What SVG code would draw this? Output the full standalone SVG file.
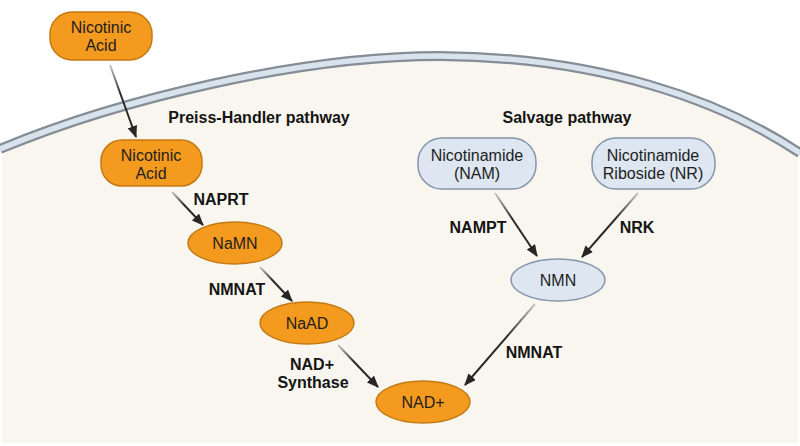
<svg xmlns="http://www.w3.org/2000/svg" width="800" height="446" viewBox="0 0 800 446">
<defs>
<style>
text{font-family:"Liberation Sans",Arial,sans-serif;fill:#1e1e1e}
.n{font-size:16px;text-anchor:middle}
.b{font-size:16px;font-weight:bold;text-anchor:middle;fill:#141414}
.or{fill:#F39A1F;stroke:#C47A14;stroke-width:1.5}
.bl{fill:#DDE6F1;stroke:#8595AA;stroke-width:1.5}
.ar{stroke-width:2;fill:none;marker-end:url(#ah)}
.dr{stroke:url(#gdr)}
.dl{stroke:url(#gdl)}
</style>
<marker id="ah" viewBox="0 0 12 10" refX="11" refY="5" markerWidth="12" markerHeight="10" markerUnits="userSpaceOnUse" orient="auto">
<path d="M0,0 L12,5 L0,10 Z" fill="#262626"/>
</marker>
<linearGradient id="gdr" x1="0" y1="0" x2="1" y2="1">
<stop offset="0" stop-color="#c9c9c9"/>
<stop offset="0.4" stop-color="#2a2a2a"/>
<stop offset="1" stop-color="#262626"/>
</linearGradient>
<linearGradient id="gdl" x1="1" y1="0" x2="0" y2="1">
<stop offset="0" stop-color="#c9c9c9"/>
<stop offset="0.4" stop-color="#2a2a2a"/>
<stop offset="1" stop-color="#262626"/>
</linearGradient>
</defs>
<rect width="800" height="446" fill="#ffffff"/>
<g id="cell">
<path d="M2,150 C120,99 300,56 440,56 C600,57 720,100 798,152 L798,443 L2,443 Z" fill="#F8F6EE"/>
<path d="M0,149 C120,99 300,56 440,56 C600,57 720,100 800,153" fill="none" stroke="#858D96" stroke-width="10"/>
<path d="M0,149 C120,99 300,56 440,56 C600,57 720,100 800,153" fill="none" stroke="#D9E3ED" stroke-width="5.5"/>
</g>
<g id="labels">
<text class="b" x="259" y="123">Preiss-Handler pathway</text>
<text class="b" x="567" y="123">Salvage pathway</text>
<text class="b" x="221" y="205">NAPRT</text>
<text class="b" x="237" y="295">NMNAT</text>
<text class="b" x="312" y="370">NAD+</text>
<text class="b" x="313" y="388">Synthase</text>
<text class="b" x="478" y="233">NAMPT</text>
<text class="b" x="637" y="233">NRK</text>
<text class="b" x="534" y="358">NMNAT</text>
</g>
<g id="connectors">
<line class="ar dr" x1="110" y1="65" x2="136" y2="137"/>
<line class="ar dr" x1="172" y1="192" x2="203" y2="225"/>
<line class="ar dr" x1="260" y1="267" x2="292" y2="301"/>
<line class="ar dr" x1="338" y1="345" x2="378" y2="387"/>
<line class="ar dl" x1="535" y1="304" x2="465" y2="385"/>
<line class="ar dr" x1="495" y1="193" x2="537" y2="256"/>
<line class="ar dl" x1="638" y1="193" x2="582" y2="257"/>
</g>
<g id="na-out">
<rect class="or" x="50" y="12" width="102" height="48" rx="22"/>
<text class="n" x="101" y="33">Nicotinic</text>
<text class="n" x="101" y="51">Acid</text>
</g>
<g id="na-in">
<rect class="or" x="101" y="140" width="101" height="46" rx="21"/>
<text class="n" x="151" y="161">Nicotinic</text>
<text class="n" x="151" y="179">Acid</text>
</g>
<g id="namn">
<ellipse class="or" cx="235" cy="243" rx="47" ry="21"/>
<text class="n" x="235" y="249">NaMN</text>
</g>
<g id="naad">
<ellipse class="or" cx="307" cy="323" rx="47" ry="21"/>
<text class="n" x="307" y="329">NaAD</text>
</g>
<g id="nad">
<ellipse class="or" cx="423" cy="402" rx="47" ry="21"/>
<text class="n" x="423" y="408">NAD+</text>
</g>
<g id="nam">
<rect class="bl" x="418" y="138" width="118" height="51" rx="24"/>
<text class="n" x="477" y="161">Nicotinamide</text>
<text class="n" x="477" y="179">(NAM)</text>
</g>
<g id="nr">
<rect class="bl" x="592" y="138" width="123" height="51" rx="24"/>
<text class="n" x="653" y="161">Nicotinamide</text>
<text class="n" x="653" y="179">Riboside (NR)</text>
</g>
<g id="nmn">
<ellipse class="bl" cx="558" cy="280" rx="47" ry="21"/>
<text class="n" x="558" y="286">NMN</text>
</g>
</svg>
